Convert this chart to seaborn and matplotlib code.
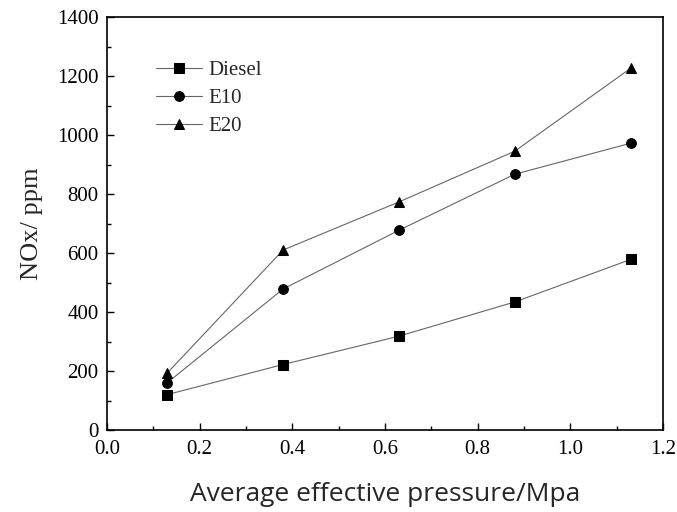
import matplotlib
matplotlib.use("Agg")
import matplotlib.pyplot as plt
import seaborn as sns
import pandas as pd
from matplotlib.ticker import MultipleLocator

pressure = [0.13, 0.38, 0.63, 0.88, 1.13]
diesel = [120, 222, 318, 434, 578]
e10 = [160, 478, 677, 867, 972]
e20 = [193, 610, 773, 945, 1226]
series_names = ["Diesel", "E10", "E20"]
markers = ["s", "o", "^"]

df = pd.DataFrame({
    "x": pressure * 3,
    "y": diesel + e10 + e20,
    "fuel": [n for n in series_names for _ in pressure],
})

sns.set_style("ticks")
plt.rcParams["font.family"] = ["Liberation Serif", "DejaVu Serif"]

fig = plt.figure(figsize=(6.77, 5.12), dpi=100)
ax = fig.add_axes([107 / 677, (512 - 430) / 512, (663 - 107) / 677, (430 - 17) / 512])

sns.lineplot(data=df, x="x", y="y", hue="fuel", style="fuel",
             palette=["#666666"] * 3, markers=markers, dashes=False,
             markersize=7, linewidth=0.8, markerfacecolor="black",
             markeredgecolor="black", ax=ax, legend=True)

ax.set_xlim(0, 1.2)
ax.set_ylim(0, 1400)
ax.xaxis.set_major_locator(MultipleLocator(0.2))
ax.xaxis.set_minor_locator(MultipleLocator(0.1))
ax.yaxis.set_major_locator(MultipleLocator(200))
ax.yaxis.set_minor_locator(MultipleLocator(100))
ax.xaxis.set_major_formatter(matplotlib.ticker.FormatStrFormatter("%.1f"))
ax.tick_params(which="both", direction="in", top=False, right=False, labelsize=15, colors="black")
ax.tick_params(axis="x", which="major", pad=7)
ax.tick_params(axis="y", which="major", pad=6)
ax.tick_params(which="major", length=5, width=1)
ax.tick_params(which="minor", length=3, width=1)
for s in ax.spines.values():
    s.set_visible(True)
    s.set_linewidth(1.2)
    s.set_color("black")

ax.set_xlabel("Average effective pressure/Mpa", fontsize=19, family=["Open Sans", "DejaVu Sans"], labelpad=17)
ax.set_ylabel("NOx/ ppm", fontsize=19, labelpad=10)

handles, labels = ax.get_legend_handles_labels()
for h in handles:
    h.set_markerfacecolor("black")
    h.set_markeredgecolor("black")
    h.set_markersize(7)
leg = ax.legend(handles, labels, loc="upper left", bbox_to_anchor=(0.055, 0.94),
                frameon=False, fontsize=15, handlelength=2.2, labelspacing=0.4, handletextpad=0.3)

fig.savefig("out.png", dpi=100)
